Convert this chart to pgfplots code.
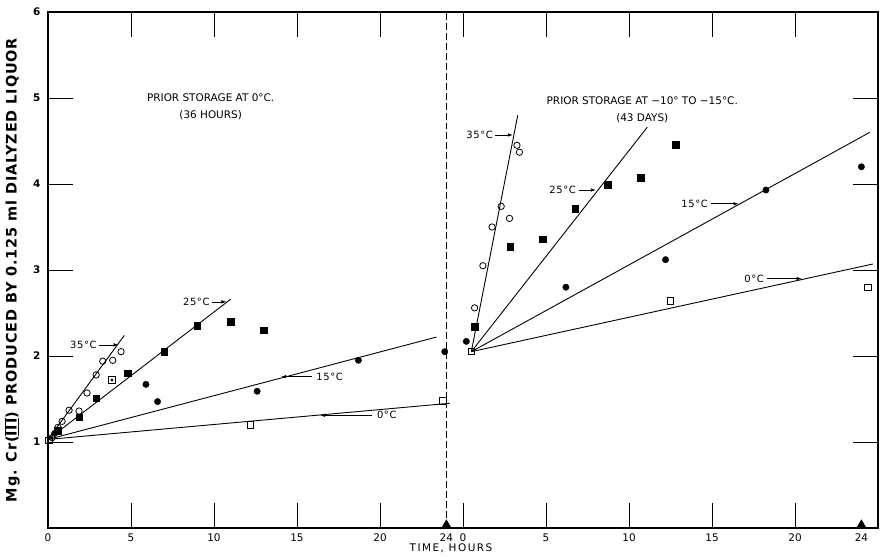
\documentclass[border=0pt]{standalone}
\usepackage{fontspec}
\setmainfont{DejaVu Sans}
\newfontfamily\lblfont{DejaVu Sans}[LetterSpace=6]
\newfontfamily\xlfont{DejaVu Sans}[LetterSpace=14]
\usepackage{pgfplots}
\pgfplotsset{compat=1.18}
\usetikzlibrary{arrows.meta}
\begin{document}
\begin{tikzpicture}
\useasboundingbox (-48bp,-29bp) rectangle (834bp,528bp);
\begin{axis}[
  scale only axis, width=830bp, height=516bp,
  at={(0,0)}, anchor=south west,
  xmin=0, xmax=50, ymin=0, ymax=6,
  clip=false,
  axis line style={line width=1.1pt},
  tick align=inside,
  major tick length=25bp,
  every tick/.style={line width=0.7pt, black},
  xtick={0,5,10,15,20,25,30,35,40,45},
  xticklabels={0,5,10,15,20,0,5,10,15,20},
  extra x ticks={24,49},
  extra x tick labels={24,24},
  extra x tick style={major tick length=0pt},
  ytick={1,2,3,4,5,6},
  /pgf/number format/assume math mode=true,
  tick label style={font=\fontsize{10.5}{12}\selectfont},
  xticklabel style={yshift=-2bp},
  yticklabel style={xshift=-4bp, font=\fontsize{10.5}{12}\selectfont\bfseries},
  xlabel={\xlfont\fontsize{10.5}{12}\selectfont TIME, HOURS},
  xlabel style={at={(axis description cs:0.4855,-0.031)}, anchor=north, inner sep=0pt},
  ylabel={\lblfont\fontsize{14.5}{16}\selectfont\bfseries Mg. Cr(\underline{$\overline{\hbox{III}}$}) PRODUCED BY 0.125 ml DIALYZED LIQUOR},
  ylabel style={at={(axis description cs:-0.0434,0.5)}, anchor=center},
]
% separator
\addplot[black, dashed, line width=0.6pt, dash pattern=on 7pt off 3pt] coordinates {(24,0) (24,6)};
% fitted lines, left panel
\addplot[black, line width=0.9pt] coordinates {(0,1.03) (4.6,2.24)};
\addplot[black, line width=0.9pt] coordinates {(0,1.03) (11.0,2.66)};
\addplot[black, line width=0.9pt] coordinates {(0,1.03) (23.4,2.22)};
\addplot[black, line width=0.9pt] coordinates {(0,1.03) (24.2,1.45)};
% fitted lines, right panel (offset 25)
\addplot[black, line width=0.9pt] coordinates {(25.5,2.05) (28.3,4.80)};
\addplot[black, line width=0.9pt] coordinates {(25.5,2.05) (36.1,4.66)};
\addplot[black, line width=0.9pt] coordinates {(25.5,2.05) (49.5,4.60)};
\addplot[black, line width=0.9pt] coordinates {(25.5,2.05) (49.7,3.07)};
% 35 C open circles
\addplot[only marks, mark=o, mark size=3.2pt, mark options={fill=white, line width=0.8pt}] coordinates {
 (0.25,1.05) (0.6,1.17) (0.85,1.24) (1.27,1.37) (1.87,1.36) (2.35,1.57) (2.9,1.78) (3.3,1.94) (3.9,1.95) (4.4,2.05)
 (25.7,2.56) (26.2,3.05) (26.75,3.50) (27.3,3.74) (27.8,3.60) (28.25,4.45) (28.4,4.37)};
% 25 C filled squares
\addplot[only marks, mark=square*, mark size=3.3pt] coordinates {
 (0.6,1.13) (1.87,1.29) (2.9,1.51) (4.8,1.80) (7.0,2.05) (9.0,2.35) (11.0,2.40) (13.0,2.30)
 (25.7,2.34) (27.85,3.27) (29.8,3.36) (31.75,3.71) (33.7,3.99) (35.7,4.07) (37.8,4.46)};
% 15 C filled circles
\addplot[only marks, mark=*, mark size=3.2pt] coordinates {
 (0.4,1.10) (5.9,1.67) (6.6,1.47) (12.6,1.59) (18.7,1.95) (23.9,2.05)
 (25.2,2.17) (31.2,2.80) (37.2,3.12) (43.25,3.93) (49.0,4.20)};
% 0 C open squares
\addplot[only marks, mark=square, mark size=3.2pt, mark options={fill=white, line width=0.8pt}] coordinates {
 (0.05,1.02) (12.2,1.20) (23.8,1.48)
 (25.5,2.05) (37.5,2.64) (49.4,2.80)};
% square with dot
\addplot[only marks, mark=square, mark size=3.2pt, mark options={fill=white, line width=0.8pt}] coordinates {(3.85,1.72)};
\addplot[only marks, mark=*, mark size=1.3pt] coordinates {(3.85,1.72)};
% triangles on the axis
\addplot[only marks, mark=triangle*, mark size=5.5pt] coordinates {(24,0.032) (49,0.032)};
% annotations
\begin{scope}[font=\lblfont\fontsize{10}{11}\selectfont]
\node[anchor=east, inner sep=1pt] at (axis cs:3.0,2.13) {35°C};
\draw[-{Latex[length=5bp,width=3.5bp]}, line width=0.6pt] (axis cs:3.1,2.13) -- (axis cs:4.25,2.13);
\node[anchor=east, inner sep=1pt] at (axis cs:9.8,2.63) {25°C};
\draw[-{Latex[length=5bp,width=3.5bp]}, line width=0.6pt] (axis cs:9.9,2.63) -- (axis cs:10.75,2.63);
\node[anchor=west, inner sep=1pt] at (axis cs:16.1,1.76) {15°C};
\draw[-{Latex[length=5bp,width=3.5bp]}, line width=0.6pt] (axis cs:15.9,1.76) -- (axis cs:14.05,1.76);
\node[anchor=west, inner sep=1pt] at (axis cs:19.75,1.31) {0°C};
\draw[-{Latex[length=5bp,width=3.5bp]}, line width=0.6pt] (axis cs:19.5,1.31) -- (axis cs:16.4,1.31);
\node[anchor=east, inner sep=1pt] at (axis cs:26.87,4.57) {35°C};
\draw[-{Latex[length=5bp,width=3.5bp]}, line width=0.6pt] (axis cs:26.95,4.57) -- (axis cs:28.0,4.57);
\node[anchor=east, inner sep=1pt] at (axis cs:31.87,3.93) {25°C};
\draw[-{Latex[length=5bp,width=3.5bp]}, line width=0.6pt] (axis cs:32.0,3.93) -- (axis cs:33.0,3.93);
\node[anchor=east, inner sep=1pt] at (axis cs:39.82,3.77) {15°C};
\draw[-{Latex[length=5bp,width=3.5bp]}, line width=0.6pt] (axis cs:39.95,3.77) -- (axis cs:41.6,3.77);
\node[anchor=east, inner sep=1pt] at (axis cs:43.2,2.90) {0°C};
\draw[-{Latex[length=5bp,width=3.5bp]}, line width=0.6pt] (axis cs:43.3,2.90) -- (axis cs:45.4,2.90);
\end{scope}
\node[align=center, font=\fontsize{10.5}{17}\selectfont] at (axis cs:9.8,4.90) {PRIOR STORAGE AT 0°C.\\(36 HOURS)};
\node[align=center, font=\fontsize{10.5}{17}\selectfont] at (axis cs:35.8,4.86) {PRIOR STORAGE AT −10° TO −15°C.\\(43 DAYS)};
\end{axis}
\end{tikzpicture}
\end{document}
